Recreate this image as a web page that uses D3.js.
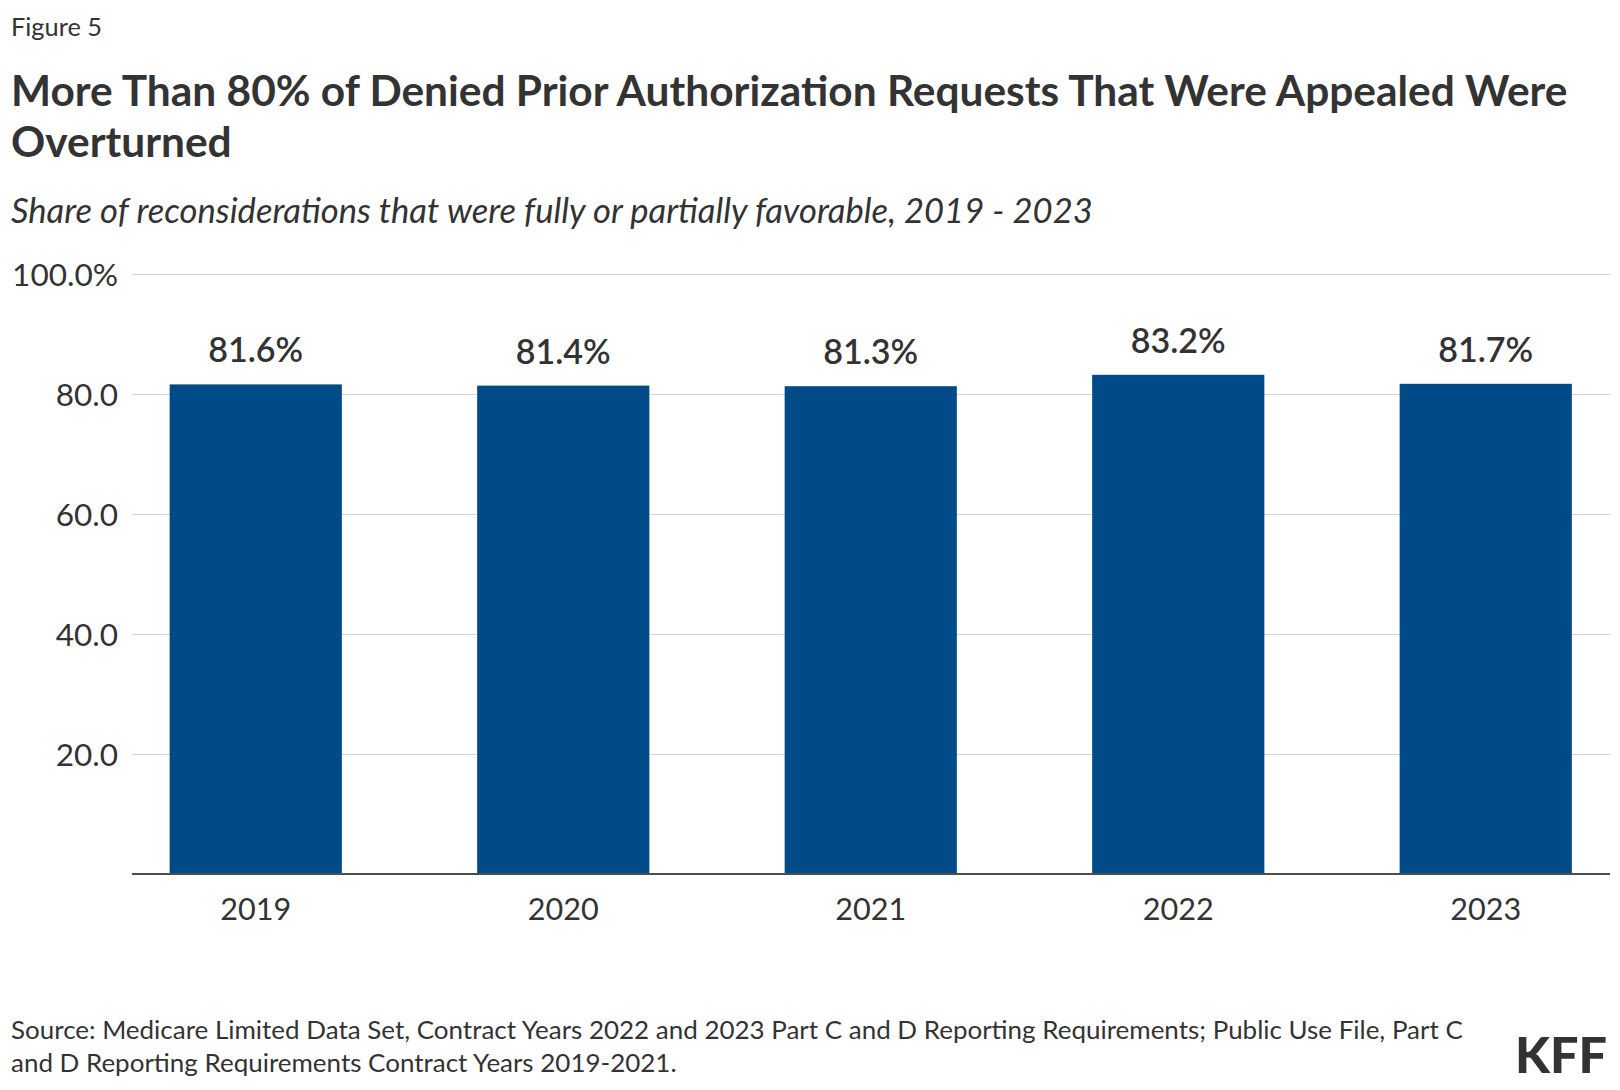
<!DOCTYPE html>
<html>
<head>
<meta charset="utf-8">
<script src="https://cdn.jsdelivr.net/npm/d3@7"></script>
<style>
  body { margin: 0; background: #fff; }
  text { font-family: Lato, "Noto Sans", sans-serif; fill: #333; }
</style>
</head>
<body>
<div id="chart"></div>
<script>
// data
const years = ["2019", "2020", "2021", "2022", "2023"];
const shares = [81.6, 81.4, 81.3, 83.2, 81.7];
const yTicks = [20, 40, 60, 80, 100];

const W = 1620, H = 1090;
const svg = d3.select("#chart").append("svg")
    .attr("width", W)
    .attr("height", H);

// scale font-size so that a text gets the wanted width
function fit(sel, width) {
    const cur = sel.node().getComputedTextLength();
    const fs = parseFloat(sel.attr("font-size"));
    const nfs = fs * width / cur;
    sel.attr("font-size", nfs);
    return nfs;
}

// headings
const fig = svg.append("text").attr("x", 11).attr("y", 36)
    .attr("font-size", 24).text("Figure 5");
fit(fig, 91);

const t1 = svg.append("text").attr("x", 11).attr("y", 106)
    .attr("font-size", 40).attr("font-weight", 700)
    .text("More Than 80% of Denied Prior Authorization Requests That Were Appealed Were");
const tfs = fit(t1, 1557);
svg.append("text").attr("x", 11).attr("y", 157)
    .attr("font-size", tfs).attr("font-weight", 700)
    .text("Overturned");

const sub = svg.append("text").attr("x", 11).attr("y", 223)
    .attr("font-size", 32).attr("font-style", "italic")
    .text("Share of reconsiderations that were fully or partially favorable, 2019 - 2023");
fit(sub, 1082);

// scales
const x = d3.scaleBand()
    .domain(years)
    .range([102, 1639.5])
    .paddingInner(0.44)
    .paddingOuter(0.22);

const y = d3.scaleLinear()
    .domain([0, 100])
    .range([874, 274]);

const gridLeft = 132, gridRight = 1610;

// gridlines + y labels
const yAxis = svg.append("g")
    .attr("transform", `translate(${gridLeft},0)`)
    .call(d3.axisLeft(y)
        .tickValues(yTicks)
        .tickSize(-(gridRight - gridLeft))
        .tickPadding(14)
        .tickFormat(d => d === 100 ? d.toFixed(1) + "%" : d.toFixed(1)));
yAxis.select(".domain").remove();
yAxis.selectAll(".tick line").attr("stroke", "#d4d4d4").attr("stroke-width", 1.2);
yAxis.selectAll(".tick text")
    .attr("font-size", 32)
    .attr("fill", "#333")
    .attr("dy", "0.36em");
yAxis.attr("font-family", null);
const topLabel = yAxis.selectAll(".tick text").filter(d => d === 100);
const yfs = fit(topLabel, 106);
yAxis.selectAll(".tick text").attr("font-size", yfs);

// bars
svg.selectAll("rect.bar")
    .data(years)
    .enter()
    .append("rect")
    .attr("class", "bar")
    .attr("x", d => x(d))
    .attr("width", x.bandwidth())
    .attr("y", (d, i) => y(shares[i]))
    .attr("height", (d, i) => y(0) - y(shares[i]))
    .attr("fill", "#004b87");

// value labels
const vals = svg.selectAll("text.val")
    .data(years)
    .enter()
    .append("text")
    .attr("class", "val")
    .attr("x", d => x(d) + x.bandwidth() / 2)
    .attr("y", (d, i) => y(shares[i]) - 22)
    .attr("text-anchor", "middle")
    .attr("font-size", 30)
    .attr("font-weight", 600)
    .text((d, i) => shares[i].toFixed(1) + "%");
const vfs = fit(d3.select(vals.nodes()[0]), 95);
vals.attr("font-size", vfs);

// x axis
svg.append("line")
    .attr("x1", gridLeft).attr("x2", gridRight)
    .attr("y1", y(0)).attr("y2", y(0))
    .attr("stroke", "#4d4d4d").attr("stroke-width", 2);

const xl = svg.selectAll("text.year")
    .data(years)
    .enter()
    .append("text")
    .attr("class", "year")
    .attr("x", d => x(d) + x.bandwidth() / 2)
    .attr("y", 920)
    .attr("text-anchor", "middle")
    .attr("font-size", 32)
    .text(d => d);
const xfs = fit(d3.select(xl.nodes()[0]), 71);
xl.attr("font-size", xfs);

// source
const s1 = svg.append("text").attr("x", 11).attr("y", 1039)
    .attr("font-size", 24)
    .text("Source: Medicare Limited Data Set, Contract Years 2022 and 2023 Part C and D Reporting Requirements; Public Use File, Part C");
const sfs = fit(s1, 1452);
svg.append("text").attr("x", 11).attr("y", 1072)
    .attr("font-size", sfs)
    .text("and D Reporting Requirements Contract Years 2019-2021.");

// logo
const logo = svg.append("text").attr("x", 1515).attr("y", 1073)
    .attr("font-size", 48).attr("font-weight", 900)
    .attr("fill", "#1a1a1a")
    .text("KFF");
fit(logo, 92);
</script>
</body>
</html>
